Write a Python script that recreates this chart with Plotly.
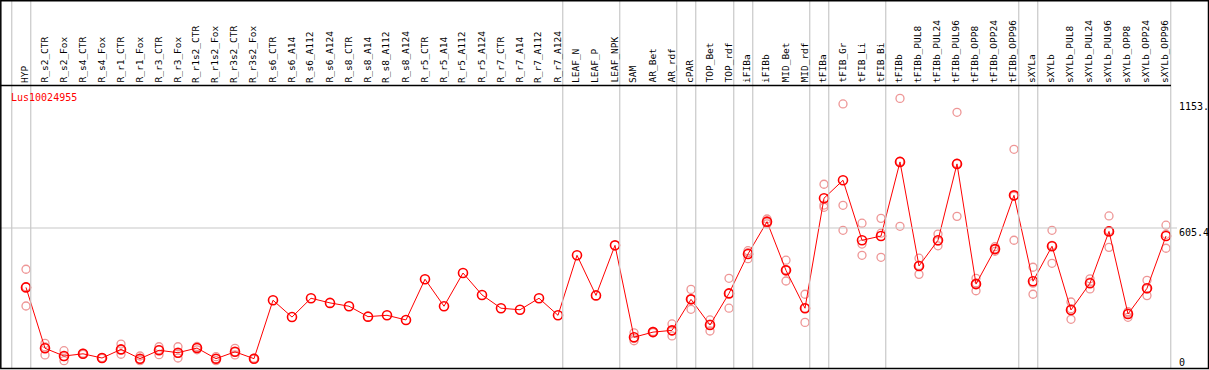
import plotly.graph_objects as go

categories = ["HYP", "R_s2_CTR", "R_s2_Fox", "R_s4_CTR", "R_s4_Fox", "R_r1_CTR", "R_r1_Fox",
              "R_r3_CTR", "R_r3_Fox", "R_r1s2_CTR", "R_r1s2_Fox", "R_r3s2_CTR", "R_r3s2_Fox",
              "R_s6_CTR", "R_s6_A14", "R_s6_A112", "R_s6_A124", "R_s8_CTR", "R_s8_A14",
              "R_s8_A112", "R_s8_A124", "R_r5_CTR", "R_r5_A14", "R_r5_A112", "R_r5_A124",
              "R_r7_CTR", "R_r7_A14", "R_r7_A112", "R_r7_A124", "LEAF_N", "LEAF_P", "LEAF_NPK",
              "SAM", "AR_Bet", "AR_rdf", "cPAR", "TOP_Bet", "TOP_rdf", "iFIBa", "iFIBb",
              "MID_Bet", "MID_rdf", "tFIBa", "tFIB_Gr", "tFIB_Li", "tFIB_Bi", "tFIBb",
              "tFIBb_PUL8", "tFIBb_PUL24", "tFIBb_PUL96", "tFIBb_OPP8", "tFIBb_OPP24",
              "tFIBb_OPP96", "sXYLa", "sXYLb", "sXYLb_PUL8", "sXYLb_PUL24", "sXYLb_PUL96",
              "sXYLb_OPP8", "sXYLb_OPP24", "sXYLb_OPP96"]

means = [337, 62, 27, 37, 18, 57, 15, 53, 42, 63, 15, 46, 15,
         279, 203, 288, 267, 252, 205, 211, 190, 374, 252, 402, 303,
         243, 236, 288, 211, 482, 301, 527,
         112, 135, 143, 283, 167, 310, 488, 634,
         414, 243, 740, 821, 550, 569, 904,
         434, 550, 895, 352, 510, 753,
         365, 523, 235, 356, 590, 217, 333, 569]

replicates = [
    [419, 340, 253], [84, 32, 68], [51, 6, 24], [40, 35, 37], [20, 16, 18],
    [81, 35, 56], [27, 6, 12], [69, 33, 56], [69, 18, 39], [70, 55, 65],
    [24, 6, 15], [62, 32, 46], [17, 13, 15],
    [], [], [], [], [], [], [], [], [], [], [], [], [], [], [], [],
    [], [], [],
    [132, 96, 106], [138, 133, 135], [172, 118, 140], [328, 238, 284],
    [190, 140, 171], [378, 243, 310], [503, 467, 494], [646, 624, 632],
    [460, 366, 417], [306, 179, 243], [803, 709, 699], [1166, 708, 595],
    [627, 533, 482], [649, 582, 473], [1191, 613, 906],
    [469, 396, 436], [578, 525, 546], [1128, 658, 897], [378, 322, 357],
    [521, 500, 510], [961, 550, 749],
    [428, 306, 356], [595, 446, 527], [271, 193, 241], [376, 330, 361],
    [660, 518, 594], [227, 202, 221], [369, 300, 330], [618, 514, 577],
]

group_ends = [-1, 0, 28, 31, 34, 35, 37, 38, 41, 42, 45, 52, 53, 60]

y_ticks = [0, 605.4, 1153]
y_tick_text = ["0", "605.4", "1153."]
gene = "Lus10024955"

W, H = 1209, 370
UPP = 4.518  # value units per pixel
ZERO_PX = 362


def py(p):
    return 1 - p / H


def px(p):
    return p / W


xs = list(range(len(categories)))
rx, ry = [], []
for i, reps in enumerate(replicates):
    for v in reps:
        rx.append(i)
        ry.append(v)

fig = go.Figure()
fig.add_trace(go.Scatter(x=rx, y=ry, mode="markers",
                         marker=dict(symbol="circle-open", size=8,
                                     color="rgb(238,150,150)", line=dict(width=1.3)),
                         hoverinfo="skip"))
fig.add_trace(go.Scatter(x=xs, y=means, mode="lines+markers",
                         line=dict(color="red", width=1),
                         marker=dict(symbol="circle-open", size=9, color="red",
                                     line=dict(width=1.6)),
                         hoverinfo="skip"))

shapes = []
for g in group_ends:
    shapes.append(dict(type="line", xref="x", yref="paper", x0=g + 0.25, x1=g + 0.25,
                       y0=py(368), y1=1, line=dict(color="#c8c8c8", width=1.2)))
shapes.append(dict(type="line", xref="paper", yref="y", x0=0, x1=px(1177),
                   y0=605.4, y1=605.4, line=dict(color="#c8c8c8", width=1.2)))
shapes.append(dict(type="line", xref="paper", yref="paper", x0=0, x1=px(1171),
                   y0=py(85.5), y1=py(85.5), line=dict(color="black", width=1.3)))
shapes.append(dict(type="rect", xref="paper", yref="paper", x0=px(0.8), x1=px(1208.5),
                   y0=py(368.5), y1=py(0.8), line=dict(color="black", width=1.5)))

annotations = []
for i, c in enumerate(categories):
    annotations.append(dict(x=i, xref="x", y=py(84), yref="paper", text=c,
                            textangle=-90, showarrow=False, xanchor="center",
                            yanchor="bottom", xshift=-1.5, borderpad=0,
                            font=dict(family="DejaVu Sans Mono", size=9.5, color="black")))
annotations.append(dict(x=px(9), xref="paper", y=py(97), yref="paper", text=gene,
                        showarrow=False, xanchor="left", yanchor="middle",
                        font=dict(family="DejaVu Sans Mono", size=10, color="red")))
tick_px = [362, 232, 107]
for t, txt, tp in zip(y_ticks, y_tick_text, tick_px):
    annotations.append(dict(x=px(1177), xref="paper", y=py(tp), yref="paper", text=txt,
                            showarrow=False, xanchor="left", yanchor="middle",
                            font=dict(family="DejaVu Sans Mono", size=10, color="black")))

fig.update_layout(
    width=W, height=H, margin=dict(l=0, r=0, t=0, b=0),
    paper_bgcolor="white", plot_bgcolor="white", showlegend=False,
    xaxis=dict(range=[-26 / 19, (W - 26) / 19], visible=False, fixedrange=True),
    yaxis=dict(range=[-(H - ZERO_PX) * UPP, ZERO_PX * UPP], visible=False, fixedrange=True),
    shapes=shapes, annotations=annotations,
)
fig.write_html("out.html", config={"displayModeBar": False},
               post_script="document.body.style.margin='0';document.body.style.overflow='hidden';")
